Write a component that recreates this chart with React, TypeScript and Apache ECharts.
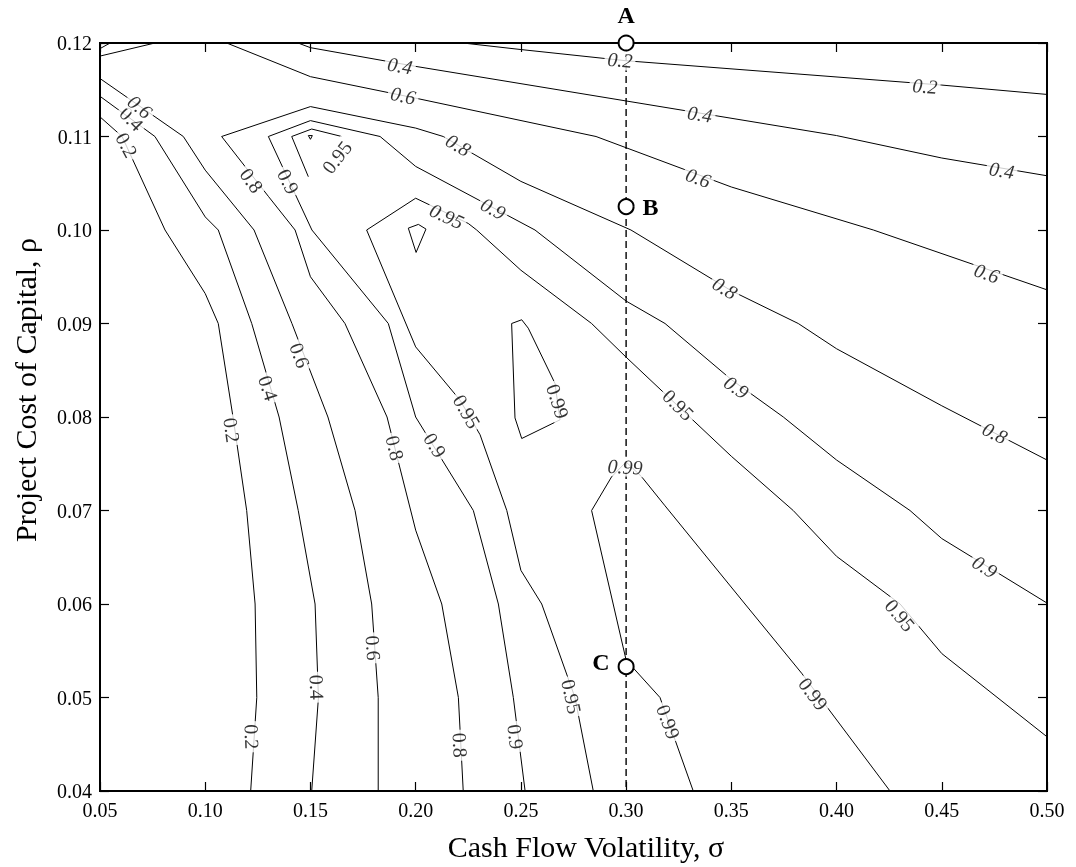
import React, { useEffect, useRef } from "react";
import * as echarts from "echarts";

const FONT = '"Liberation Serif", "Times New Roman", serif';

// Axes
const xTickValues = [0.05, 0.1, 0.15, 0.2, 0.25, 0.3, 0.35, 0.4, 0.45, 0.5];
const yTickValues = [0.04, 0.05, 0.06, 0.07, 0.08, 0.09, 0.1, 0.11, 0.12];
const xTitle = "Cash Flow Volatility, σ";
const yTitle = "Project Cost of Capital, ρ";

// Contour lines [sigma, rho]
const contour02Left = [[0.05,0.1121],[0.0605,0.11],[0.0809,0.10],[0.10,0.0932],[0.1062,0.09],[0.1132,0.08],[0.1197,0.07],[0.1237,0.06],[0.1245,0.05],[0.1216,0.04]];
const contour04Left = [[0.05,0.1143],[0.0761,0.11],[0.10,0.1014],[0.1062,0.10],[0.1221,0.09],[0.1351,0.08],[0.1442,0.07],[0.1522,0.06],[0.1538,0.05],[0.1506,0.04]];
const contour06Left = [[0.05,0.1162],[0.0896,0.11],[0.10,0.1064],[0.1232,0.10],[0.1412,0.09],[0.1583,0.08],[0.1712,0.07],[0.1791,0.06],[0.1822,0.05],[0.1822,0.04]];
const contour08 = [[0.2226,0.04],[0.2203,0.05],[0.2124,0.06],[0.20,0.0679],[0.1864,0.08],[0.1664,0.09],[0.15,0.095],[0.1427,0.10],[0.13,0.1036],[0.1078,0.11],[0.15,0.1132],[0.20,0.1109],[0.2131,0.11],[0.25,0.1052],[0.3023,0.10],[0.35,0.0935],[0.3818,0.09],[0.40,0.0873],[0.45,0.0812],[0.50,0.0754]];
const contour09 = [[0.2520,0.04],[0.2464,0.05],[0.2393,0.06],[0.2274,0.07],[0.20,0.08],[0.187,0.09],[0.1507,0.10],[0.13,0.11],[0.15,0.1117],[0.1831,0.11],[0.20,0.1068],[0.2567,0.10],[0.30,0.0924],[0.3185,0.09],[0.35,0.084],[0.3747,0.08],[0.40,0.0754],[0.4349,0.07],[0.45,0.067],[0.50,0.0601]];
const contour095 = [[0.2844,0.04],[0.2757,0.05],[0.2599,0.06],[0.25,0.0636],[0.2433,0.07],[0.2306,0.0781],[0.2211,0.0818],[0.20,0.0875],[0.1767,0.10],[0.20,0.1034],[0.225,0.1007],[0.229,0.10],[0.25,0.0957],[0.2836,0.09],[0.30,0.0864],[0.35,0.0758],[0.3794,0.07],[0.40,0.0651],[0.4302,0.06],[0.45,0.0547],[0.50,0.0458]];
const contour095Small = [[0.1649,0.11],[0.1506,0.1108],[0.1411,0.11],[0.149,0.1057]];
const contour099Tiny = [[0.149,0.1101],[0.1509,0.1101],[0.15,0.1097],[0.149,0.1101]];
const contour099Quad = [[0.1965,0.1002],[0.2013,0.1006],[0.2049,0.1001],[0.2002,0.0976],[0.1965,0.1002]];
const contour099Mid = [[0.2456,0.09],[0.2504,0.0904],[0.2535,0.0895],[0.2662,0.0836],[0.2686,0.0797],[0.2504,0.0777],[0.2472,0.0799],[0.2456,0.09]];
const contour099 = [[0.3319,0.04],[0.3161,0.05],[0.30,0.054],[0.2836,0.07],[0.2931,0.0736],[0.30,0.0752],[0.3074,0.0736],[0.3185,0.0705],[0.3565,0.06],[0.3834,0.0526],[0.4254,0.04]];
const contour06Top = [[0.1102,0.12],[0.15,0.1164],[0.20,0.1141],[0.2857,0.11],[0.35,0.1046],[0.4175,0.10],[0.50,0.0936]];
const contour04Top = [[0.1441,0.12],[0.15,0.1195],[0.20,0.1175],[0.40,0.1101],[0.45,0.1077],[0.50,0.1058]];
const contour02Top = [[0.2225,0.12],[0.25,0.1193],[0.30,0.1181],[0.45,0.1155],[0.50,0.1145]];
const cornerInner = [[0.05,0.1194],[0.0548,0.12]];
const cornerOuter = [[0.05,0.1186],[0.0761,0.12]];

const contours = [
  contour02Left, contour04Left, contour06Left, contour08, contour09, contour095,
  contour095Small, contour099Tiny, contour099Quad, contour099Mid, contour099,
  contour06Top, contour04Top, contour02Top, cornerInner, cornerOuter,
];

// Contour labels [sigma, rho, text]
const contourLabels: [number, number, string][] = [
  [0.0627,0.1091,"0.2"],[0.0651,0.1119,"0.4"],[0.069,0.1132,"0.6"],
  [0.1127,0.0786,"0.2"],[0.1222,0.0458,"0.2"],
  [0.13,0.0831,"0.4"],[0.1531,0.0511,"0.4"],
  [0.145,0.0866,"0.6"],[0.1799,0.0553,"0.6"],
  [0.1221,0.1053,"0.8"],[0.1902,0.0767,"0.8"],[0.2211,0.0449,"0.8"],
  [0.2203,0.1091,"0.8"],[0.347,0.0938,"0.8"],[0.4753,0.0783,"0.8"],
  [0.1395,0.1052,"0.9"],[0.2092,0.077,"0.9"],[0.2475,0.0458,"0.9"],
  [0.2369,0.1023,"0.9"],[0.3525,0.0832,"0.9"],[0.4705,0.064,"0.9"],
  [0.1625,0.1078,"0.95"],[0.2148,0.1015,"0.95"],[0.2243,0.0806,"0.95"],
  [0.2741,0.0501,"0.95"],[0.3248,0.0813,"0.95"],[0.4302,0.0588,"0.95"],
  [0.2676,0.0817,"0.99"],[0.2995,0.0747,"0.99"],[0.3201,0.0474,"0.99"],[0.389,0.0504,"0.99"],
  [0.2971,0.1182,"0.2"],[0.442,0.1154,"0.2"],
  [0.1926,0.1176,"0.4"],[0.3351,0.1124,"0.4"],[0.4785,0.1064,"0.4"],
  [0.1941,0.1144,"0.6"],[0.3343,0.1056,"0.6"],[0.4714,0.0954,"0.6"],
];
const contourLabelAngles = [
  -62,-45,-40,
  -82,-88,
  -72,-88,
  -70,-86,
  -55,-76,-87,
  -31,-31,-27,
  -64,-58,-83,
  -28,-35,-33,
  52,-25,-60,
  -78,-45,-50,
  -72,-3,-70,-53,
  -5,-4,
  -10,-9,-9,
  -12,-20,-19,
];

// Marked points A, B, C at sigma = 0.30
const pointNames = ["A", "B", "C"];
const pointSigma = [0.3, 0.3, 0.3];
const pointRho = [0.12, 0.1025, 0.0533];
const dashedLine = [[0.3, 0.12], [0.3, 0.04]];

export default function App() {
  const ref = useRef<HTMLDivElement>(null);
  useEffect(() => {
    const chart = echarts.init(ref.current!, null, { renderer: "svg" });
    const fmt = (v: number) => v.toFixed(2);
    const tickStyle = { inside: true, length: 9, lineStyle: { color: "#000", width: 1.2 } };
    const lineSeries = contours.map((pts) => ({
      type: "line",
      data: pts,
      symbol: "none",
      showSymbol: false,
      silent: true,
      z: 2,
      lineStyle: { color: "#000", width: 1 },
    }));
    const labelData = contourLabels.map((l, i) => {
      const rot = contourLabelAngles[i];
      return {
        value: [l[0], l[1]],
        label: {
          formatter: l[2],
          rotate: rot,
          fontStyle: Math.abs(rot) < 45 ? "italic" : "normal",
        },
      };
    });
    const pointPos = ["top", "right", "left"];
    const pointOffset = [[0, 0], [0, 0], [0, -5]];
    const pointData = pointNames.map((n, i) => ({
      value: [pointSigma[i], pointRho[i]],
      label: { formatter: n, position: pointPos[i], offset: pointOffset[i] },
    }));

    chart.setOption({
      animation: false,
      grid: { left: 100, top: 43, width: 947, height: 748, show: true, borderColor: "#000", borderWidth: 2, backgroundColor: "#fff" },
      xAxis: [
        {
          type: "value", min: xTickValues[0], max: xTickValues[xTickValues.length - 1], interval: 0.05,
          axisLine: { show: false }, splitLine: { show: false }, axisTick: tickStyle,
          axisLabel: { formatter: fmt, color: "#000", fontSize: 20, fontFamily: FONT, margin: 9 },
        },
        {
          type: "value", position: "top", min: xTickValues[0], max: xTickValues[xTickValues.length - 1], interval: 0.05,
          axisLine: { show: false }, splitLine: { show: false }, axisTick: tickStyle, axisLabel: { show: false },
        },
      ],
      yAxis: [
        {
          type: "value", min: yTickValues[0], max: yTickValues[yTickValues.length - 1], interval: 0.01,
          axisLine: { show: false }, splitLine: { show: false }, axisTick: tickStyle,
          axisLabel: { formatter: fmt, color: "#000", fontSize: 20, fontFamily: FONT, margin: 8 },
        },
        {
          type: "value", position: "right", min: yTickValues[0], max: yTickValues[yTickValues.length - 1], interval: 0.01,
          axisLine: { show: false }, splitLine: { show: false }, axisTick: tickStyle, axisLabel: { show: false },
        },
      ],
      graphic: [
        { type: "text", x: 586, y: 846, style: { text: xTitle, font: `30px ${FONT}`, fill: "#000", align: "center", verticalAlign: "middle" } },
        { type: "text", x: 25, y: 390, rotation: Math.PI / 2, style: { text: yTitle, font: `30px ${FONT}`, fill: "#000", align: "center", verticalAlign: "middle" } },
      ],
      series: [
        ...lineSeries,
        {
          type: "line", data: dashedLine, symbol: "none", silent: true, z: 2,
          lineStyle: { color: "#000", width: 1.4, type: [7, 4] },
        },
        {
          type: "scatter", data: labelData, symbolSize: 1, silent: true, z: 5,
          itemStyle: { color: "rgba(0,0,0,0)" },
          label: {
            show: true, position: "inside", color: "#000", fontSize: 20, fontFamily: FONT,
            backgroundColor: "#fff", padding: [0, 3], align: "center", verticalAlign: "middle",
          },
        },
        {
          type: "scatter", data: pointData, symbol: "circle", symbolSize: 15, silent: true, z: 8, clip: false,
          itemStyle: { color: "#fff", borderColor: "#000", borderWidth: 2, opacity: 1 },
          label: { show: true, color: "#000", fontSize: 24, fontWeight: "bold", fontFamily: FONT, distance: 8 },
        },
      ],
    });
    return () => chart.dispose();
  }, []);
  return <div ref={ref} style={{ position: "fixed", left: 0, top: 0, width: 1076, height: 867 }} />;
}
